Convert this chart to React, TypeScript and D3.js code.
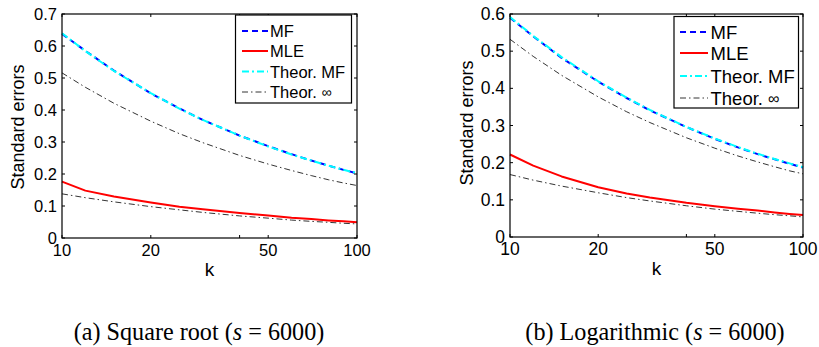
import * as d3 from 'd3';

// k values sampled in both experiments
const kValues = [10, 12, 15, 20, 25, 30, 40, 50, 60, 70, 80, 90, 100];

// (a) square root
const mfSqrt = [0.638, 0.585, 0.523, 0.452, 0.405, 0.369, 0.32, 0.287, 0.262, 0.242, 0.226, 0.213, 0.202];
const mleSqrt = [0.176, 0.148, 0.13, 0.111, 0.098, 0.09, 0.078, 0.07, 0.063, 0.059, 0.055, 0.052, 0.049];
const theorMfSqrt = [0.64, 0.584, 0.522, 0.453, 0.404, 0.369, 0.32, 0.286, 0.261, 0.242, 0.226, 0.213, 0.203];
const theorInfHiSqrt = [0.516, 0.471, 0.421, 0.365, 0.326, 0.298, 0.258, 0.231, 0.211, 0.195, 0.182, 0.172, 0.164];
const theorInfLoSqrt = [0.138, 0.126, 0.113, 0.098, 0.088, 0.08, 0.069, 0.062, 0.056, 0.052, 0.049, 0.046, 0.044];

// (b) logarithmic
const mfLog = [0.59, 0.54, 0.482, 0.418, 0.374, 0.341, 0.296, 0.264, 0.241, 0.223, 0.209, 0.197, 0.187];
const mleLog = [0.222, 0.192, 0.163, 0.134, 0.117, 0.106, 0.092, 0.083, 0.076, 0.071, 0.066, 0.062, 0.059];
const theorMfLog = [0.592, 0.541, 0.484, 0.419, 0.375, 0.342, 0.296, 0.265, 0.242, 0.224, 0.21, 0.198, 0.188];
const theorInfHiLog = [0.532, 0.486, 0.435, 0.377, 0.337, 0.308, 0.267, 0.239, 0.218, 0.202, 0.189, 0.178, 0.17];
const theorInfLoLog = [0.168, 0.153, 0.137, 0.119, 0.106, 0.097, 0.084, 0.075, 0.069, 0.064, 0.06, 0.057, 0.054];

const xTicks = [10, 20, 50, 100];
const xMinorTicks = [40];
const yTicksSqrt = [0, 0.1, 0.2, 0.3, 0.4, 0.5, 0.6, 0.7];
const yTicksLog = [0, 0.1, 0.2, 0.3, 0.4, 0.5, 0.6];
const legendLabels = ['MF', 'MLE', 'Theor. MF', 'Theor. '];
const captionNames = ['(a) Square root (', '(b) Logarithmic ('];

const SANS = "'Liberation Sans', Arial, Helvetica, sans-serif";
const SERIF = "'Liberation Serif', 'Times New Roman', serif";

// MATLAB-ish line specs: '--b', '-r', '-.c', '-.k'
const lineStyles = [
  { color: '#0000ff', width: 2, dash: '6,4' },
  { color: '#ff0000', width: 2, dash: undefined },
  { color: '#00ffff', width: 2, dash: '7,3,2,3' },
  { color: '#000000', width: 0.8, dash: '6,3,1.5,3' },
];

type PanelProps = {
  left: number; right: number; top: number; bottom: number;
  yMax: number; yTicks: number[];
  series: number[][]; // mf, mle, theorMf, theorInfHi, theorInfLo
  tickFont: number; labelFont: number;
  yLabelX: number; yLabelY: number;
  legend: { x0: number; x1: number; y0: number; y1: number; sx0: number; sx1: number; tx: number; rows: number[]; font: number };
  caption: string; captionX: number;
};

function Panel(p: PanelProps) {
  const x = d3.scaleLog().domain([10, 100]).range([p.left, p.right]);
  const y = d3.scaleLinear().domain([0, p.yMax]).range([p.bottom, p.top]);
  const line = d3.line<number>()
    .x((_, i) => x(kValues[i]))
    .y((d) => y(d));

  // theor-inf has two curves (upper and lower) with one style
  const styleIdx = [0, 1, 2, 3, 3];
  const tl = 3;
  const allX = xTicks.concat(xMinorTicks);

  return (
    <g>
      {p.series.map((s, si) => {
        const st = lineStyles[styleIdx[si]];
        return (
          <path key={si} d={line(s) || ''} fill="none" stroke={st.color}
            strokeWidth={st.width} strokeDasharray={st.dash} strokeLinejoin="round" />
        );
      })}

      <rect x={p.left} y={p.top} width={p.right - p.left} height={p.bottom - p.top}
        fill="none" stroke="#000" strokeWidth={1.2} />

      {allX.map((t) => (
        <g key={'x' + t}>
          <line x1={x(t)} x2={x(t)} y1={p.bottom} y2={p.bottom - tl} stroke="#000" />
          <line x1={x(t)} x2={x(t)} y1={p.top} y2={p.top + tl} stroke="#000" />
        </g>
      ))}
      {xTicks.map((t) => (
        <text key={'xl' + t} x={x(t)} y={p.bottom + 12} textAnchor="middle" dominantBaseline="central"
          fontFamily={SANS} fontSize={p.tickFont}>{t}</text>
      ))}
      {p.yTicks.map((t) => (
        <g key={'y' + t}>
          <line x1={p.left} x2={p.left + tl} y1={y(t)} y2={y(t)} stroke="#000" />
          <line x1={p.right} x2={p.right - tl} y1={y(t)} y2={y(t)} stroke="#000" />
          <text x={p.left - 5} y={y(t)} textAnchor="end" dominantBaseline="central"
            fontFamily={SANS} fontSize={p.tickFont}>{t === 0 ? '0' : d3.format('.1f')(t)}</text>
        </g>
      ))}

      <text x={(p.left + p.right) / 2} y={p.bottom + 38} textAnchor="middle"
        fontFamily={SANS} fontSize={p.labelFont + 1}>k</text>
      <text transform={`translate(${p.yLabelX},${p.yLabelY}) rotate(-90)`} textAnchor="middle"
        dominantBaseline="central" fontFamily={SANS} fontSize={p.labelFont}>Standard errors</text>

      {/* legend */}
      <rect x={p.legend.x0} y={p.legend.y0} width={p.legend.x1 - p.legend.x0} height={p.legend.y1 - p.legend.y0}
        fill="#fff" stroke="#000" strokeWidth={1.2} />
      {legendLabels.map((lab, i) => {
        const st = lineStyles[i];
        const ry = p.legend.rows[i];
        return (
          <g key={lab}>
            <line x1={p.legend.sx0} x2={p.legend.sx1} y1={ry} y2={ry} stroke={st.color}
              strokeWidth={st.width} strokeDasharray={st.dash} />
            <text x={p.legend.tx} y={ry} dominantBaseline="central" fontFamily={SANS} fontSize={p.legend.font}>
              {lab}{i === 3 ? <tspan fontSize={p.legend.font * 0.85}>∞</tspan> : null}
            </text>
          </g>
        );
      })}

      <text transform={`translate(${p.captionX},340) scale(0.93,1)`} textAnchor="middle"
        fontFamily={SERIF} fontSize={26}>
        {p.caption}<tspan fontStyle="italic">s</tspan>{' = 6000)'}
      </text>
    </g>
  );
}

export default function App() {
  return (
    <svg width={819} height={347} style={{ position: 'absolute', left: 0, top: 0, background: '#fff' }}>
      <Panel left={62} right={357} top={14} bottom={238} yMax={0.7} yTicks={yTicksSqrt}
        series={[mfSqrt, mleSqrt, theorMfSqrt, theorInfHiSqrt, theorInfLoSqrt]}
        tickFont={16.5} labelFont={18} yLabelX={18} yLabelY={127}
        legend={{ x0: 235.5, x1: 351.5, y0: 15, y1: 103, sx0: 242, sx1: 268, tx: 270, rows: [31, 51, 71.5, 92], font: 16.5 }}
        caption={captionNames[0]} captionX={199} />
      <Panel left={510} right={803} top={14} bottom={237} yMax={0.6} yTicks={yTicksLog}
        series={[mfLog, mleLog, theorMfLog, theorInfHiLog, theorInfLoLog]}
        tickFont={17.5} labelFont={18} yLabelX={467} yLabelY={123}
        legend={{ x0: 674, x1: 798.5, y0: 16.5, y1: 108, sx0: 680, sx1: 708, tx: 710.5, rows: [32, 53, 76, 98], font: 18.5 }}
        caption={captionNames[1]} captionX={655} />
    </svg>
  );
}
